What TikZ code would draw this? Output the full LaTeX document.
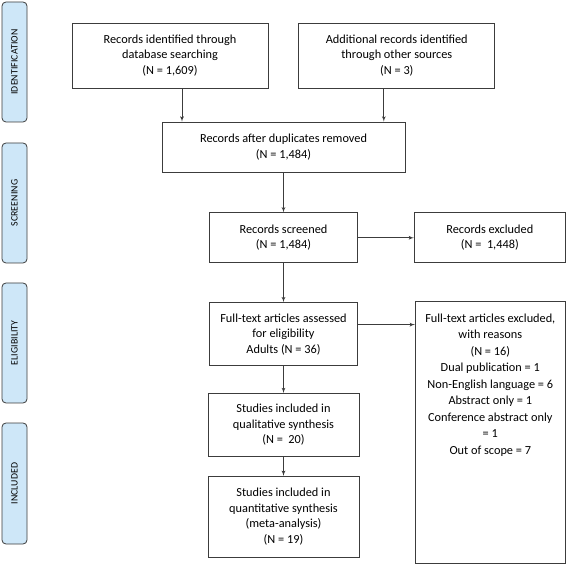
\documentclass[tikz,border=0pt]{standalone}
\usepackage{fontspec}
\setmainfont{Carlito}
\newfontfamily\tabfont[LetterSpace=1]{Carlito}
\usetikzlibrary{arrows,positioning}
\definecolor{tabblue}{RGB}{206,231,248}
\definecolor{lineg}{RGB}{60,60,60}

\begin{document}
\begin{tikzpicture}[>=latex', x=1pt, y=1pt]
        \tikzset{
            block/.style= {
                draw=lineg,
                line width=0.8pt,
                shape=rectangle,
                align=center,
                inner sep=2pt,
                font=\fontsize{12.3}{15.5}\selectfont
            },
            phase/.style= {
                draw=lineg,
                fill=tabblue,
                line width=0.8pt,
                rounded corners=4pt,
                rotate=90,
                minimum width=120pt,
                minimum height=25pt,
                font=\tabfont\fontsize{9.8}{12}\selectfont
            },
        }
        \useasboundingbox (0,0) rectangle (567,565);
        %% phases
        \node [phase] (ident) at (14.5,503) {IDENTIFICATION};
        \node [phase] (screen) at (14.5,362) {SCREENING};
        \node [phase] (elig) at (14.5,222) {ELIGIBILITY};
        \node [phase, minimum width=121pt] (incl) at (14.5,81.5) {INCLUDED};
        %% boxes
        \node [block, minimum width=196pt, minimum height=65pt] (database) at (170,509.5)
            {Records identified through\\database searching\\(N = 1,609)};
        \node [block, minimum width=196pt, minimum height=65pt, right =30pt of database] (other)
            {Additional records identified\\through other sources\\(N = 3)};
        \node [block, minimum width=243pt, minimum height=50pt] (dedup) at (283.5,418)
            {Records after duplicates removed\\(N = 1,484)};
        \node [block, minimum width=148pt, minimum height=50pt, below =40pt of dedup] (screened)
            {Records screened\\(N = 1,484)};
        \node [block, minimum width=151pt, minimum height=50pt, right =56pt of screened] (excluded)
            {Records excluded\\(N =~~1,448)};
        \node [block, minimum width=148pt, minimum height=63pt, below =39pt of screened] (fulltext)
            {Full-text articles assessed\\for eligibility\\Adults (N = 36)};
        \node [block, anchor=north west, inner sep=0pt] (reasons) at ([xshift=57pt,yshift=1pt]fulltext.north east)
            {\parbox[c][262pt][t]{150pt}{\centering\fontsize{12.3}{16.5}\selectfont\vspace{12pt}%
            Full-text articles excluded,\\with reasons\\(N = 16)\\
            Dual publication = 1\\Non-English language = 6\\Abstract only = 1\\
            Conference abstract only\\= 1\\Out of scope = 7}};
        \node [block, minimum width=151pt, minimum height=63pt, below =27pt of fulltext] (quali)
            {Studies included in\\qualitative synthesis\\(N =~~20)};
        \node [block, minimum width=151pt, minimum height=81pt, below =19pt of quali] (quanti)
            {Studies included in\\quantitative synthesis\\(meta-analysis)\\(N = 19)};
        \coordinate (fromfull) at ([yshift=9.5pt]fulltext.east);
        \coordinate (toreasons) at (fromfull -| reasons.west);
        \coordinate (fromdb) at ([xshift=12pt]database.south);
        \coordinate (fromother) at ([xshift=-13pt]other.south);
%% paths
\path[every edge/.style={draw=lineg, line width=0.8pt, ->}]
    (fromdb) edge (fromdb |- dedup.north)
    (fromother) edge (fromother |- dedup.north)
    (dedup) edge (screened)
    (screened) edge (excluded)
    (screened) edge (fulltext)
    (fromfull) edge (toreasons)
    (fulltext) edge (quali)
    (quali) edge (quanti)
;
\end{tikzpicture}
\end{document}
